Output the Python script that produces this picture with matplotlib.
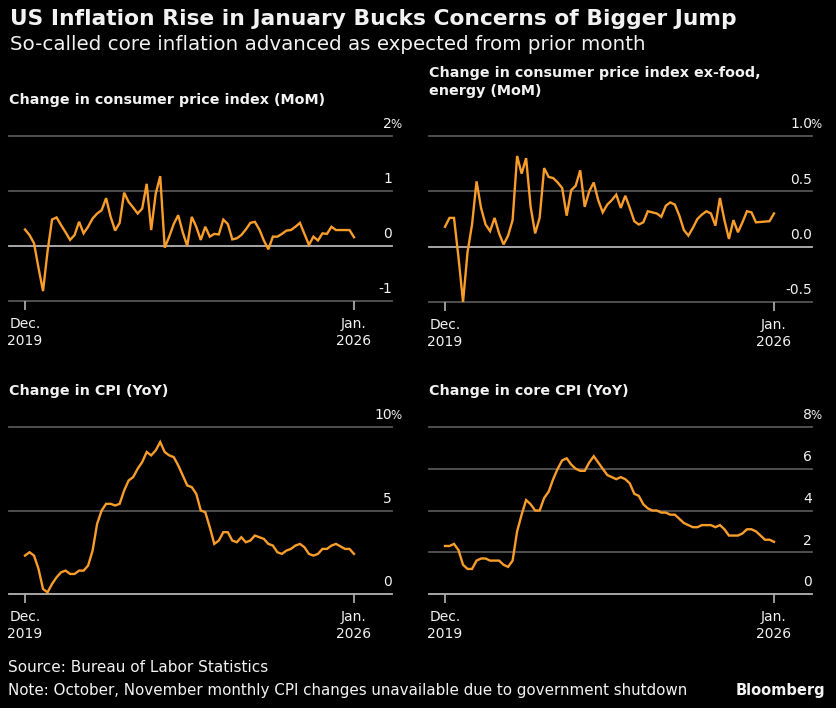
import numpy as np
import matplotlib
matplotlib.use("Agg")
import matplotlib.pyplot as plt

# months from Dec. 2019 (0) to Jan. 2026 (73); Oct./Nov. 2025 missing for MoM
n_months = 74
tick_idx = [0, 73]
tick_labels = ["Dec.\n2019", "Jan.\n2026"]

cpi_mom = [0.3, 0.2, 0.05, -0.4, -0.82, -0.1, 0.48, 0.52, 0.38, 0.25, 0.11, 0.2,
           0.44, 0.23, 0.35, 0.5, 0.59, 0.65, 0.87, 0.53, 0.28, 0.42, 0.97, 0.8,
           0.7, 0.59, 0.68, 1.13, 0.29, 0.95, 1.27, -0.03, 0.17, 0.4, 0.56, 0.25,
           0.0, 0.53, 0.35, 0.11, 0.35, 0.17, 0.22, 0.21, 0.48, 0.4, 0.12, 0.14,
           0.2, 0.3, 0.42, 0.44, 0.3, 0.1, -0.06, 0.17, 0.17, 0.22, 0.28, 0.29,
           0.35, 0.42, 0.22, 0.02, 0.17, 0.1, 0.23, 0.22, 0.35, 0.29, None, None,
           0.29, 0.16]

core_mom = [0.18, 0.26, 0.26, -0.1, -0.5, -0.05, 0.2, 0.59, 0.35, 0.2, 0.14, 0.26,
            0.12, 0.02, 0.1, 0.24, 0.82, 0.66, 0.8, 0.36, 0.12, 0.26, 0.71, 0.63,
            0.62, 0.58, 0.53, 0.28, 0.51, 0.55, 0.69, 0.36, 0.5, 0.58, 0.42, 0.31,
            0.38, 0.42, 0.47, 0.35, 0.46, 0.35, 0.23, 0.2, 0.22, 0.32, 0.31, 0.3,
            0.27, 0.37, 0.4, 0.38, 0.28, 0.15, 0.1, 0.17, 0.25, 0.29, 0.32, 0.3,
            0.19, 0.44, 0.24, 0.07, 0.24, 0.13, 0.22, 0.32, 0.31, 0.22, None, None,
            0.23, 0.3]

cpi_yoy = [2.3, 2.5, 2.3, 1.5, 0.3, 0.1, 0.6, 1.0, 1.3, 1.4, 1.2, 1.2,
           1.4, 1.4, 1.7, 2.6, 4.2, 5.0, 5.4, 5.4, 5.3, 5.4, 6.2, 6.8,
           7.0, 7.5, 7.9, 8.5, 8.3, 8.6, 9.1, 8.5, 8.3, 8.2, 7.7, 7.1,
           6.5, 6.4, 6.0, 5.0, 4.9, 4.0, 3.0, 3.2, 3.7, 3.7, 3.2, 3.1,
           3.4, 3.1, 3.2, 3.5, 3.4, 3.3, 3.0, 2.9, 2.5, 2.4, 2.6, 2.7,
           2.9, 3.0, 2.8, 2.4, 2.3, 2.4, 2.7, 2.7, 2.9, 3.0, None, 2.7,
           2.7, 2.4]

core_yoy = [2.3, 2.3, 2.4, 2.1, 1.4, 1.2, 1.2, 1.6, 1.7, 1.7, 1.6, 1.6,
            1.6, 1.4, 1.3, 1.6, 3.0, 3.8, 4.5, 4.3, 4.0, 4.0, 4.6, 4.9,
            5.5, 6.0, 6.4, 6.5, 6.2, 6.0, 5.9, 5.9, 6.3, 6.6, 6.3, 6.0,
            5.7, 5.6, 5.5, 5.6, 5.5, 5.3, 4.8, 4.7, 4.3, 4.1, 4.0, 4.0,
            3.9, 3.9, 3.8, 3.8, 3.6, 3.4, 3.3, 3.2, 3.2, 3.3, 3.3, 3.3,
            3.2, 3.3, 3.1, 2.8, 2.8, 2.8, 2.9, 3.1, 3.1, 3.0, None, 2.6,
            2.6, 2.5]

panels = [
    dict(title="Change in consumer price index (MoM)", data=cpi_mom,
         ticks=[-1, 0, 1, 2], labels=["-1", "0", "1", "2"], box=(9, 136, 392, 301)),
    dict(title="Change in consumer price index ex-food,\nenergy (MoM)", data=core_mom,
         ticks=[-0.5, 0.0, 0.5, 1.0], labels=["-0.5", "0.0", "0.5", "1.0"], box=(429, 136, 812, 302)),
    dict(title="Change in CPI (YoY)", data=cpi_yoy,
         ticks=[0, 5, 10], labels=["0", "5", "10"], box=(9, 427, 392, 594)),
    dict(title="Change in core CPI (YoY)", data=core_yoy,
         ticks=[0, 2, 4, 6, 8], labels=["0", "2", "4", "6", "8"], box=(429, 427, 812, 594)),
]

W, H = 837, 708
orange = "#f99d2a"
txt = "#f2f2f2"

fig = plt.figure(figsize=(W / 100, H / 100), dpi=100, facecolor="black")

fig.text(10 / W, 1 - 19 / H, "US Inflation Rise in January Bucks Concerns of Bigger Jump",
         color=txt, fontsize=15.7, fontweight="bold", va="center", ha="left")
fig.text(10 / W, 1 - 45 / H, "So-called core inflation advanced as expected from prior month",
         color=txt, fontsize=14.3, va="center", ha="left")

# pixels between first tick and gridline start, last tick and gridline end
lpad, rpad = 16, 38
for p in panels:
    x0, y0, x1, y1 = p["box"]
    ax = fig.add_axes([x0 / W, 1 - y1 / H, (x1 - x0) / W, (y1 - y0) / H])
    ax.set_facecolor("black")
    step = (x1 - x0 - lpad - rpad) / (tick_idx[1] - tick_idx[0])
    ax.set_xlim(-lpad / step, tick_idx[1] + rpad / step)
    ax.set_ylim(p["ticks"][0], p["ticks"][-1])

    for t, lab in zip(p["ticks"], p["labels"]):
        col = "#b4b4b4" if t == 0 else "#555555"
        ax.axhline(t, color=col, lw=1.3, zorder=1, clip_on=False)
        ax.annotate(lab, (1.0, t), xycoords=ax.get_yaxis_transform(),
                    xytext=(0, 5.5), textcoords="offset points",
                    ha="right", va="baseline", color=txt, fontsize=10)
    # percent sign on the top label
    ax.annotate("%", (1.0, p["ticks"][-1]), xycoords=ax.get_yaxis_transform(),
                xytext=(-1, 5.5), textcoords="offset points",
                ha="left", va="baseline", color=txt, fontsize=8.5)

    s = np.array([np.nan if v is None else v for v in p["data"]], dtype=float)
    x = np.arange(n_months)
    ok = ~np.isnan(s)
    ax.plot(x[ok], s[ok], color=orange, lw=1.7, zorder=3, clip_on=False,
            solid_joinstyle="miter")

    for side in ax.spines.values():
        side.set_visible(False)
    ax.set_yticks([])
    ax.set_xticks(tick_idx)
    ax.set_xticklabels(tick_labels, color=txt, fontsize=10, linespacing=1.3)
    ax.tick_params(axis="x", direction="out", length=6.5, width=1.2,
                   color="#b4b4b4", pad=5)

    ty = y0 - 36 if "\n" not in p["title"] else y0 - 54
    fig.text(x0 / W, 1 - ty / H, p["title"], color=txt, fontsize=10.3,
             fontweight="bold", va="center", ha="left", linespacing=1.3)

fig.text(8 / W, 1 - 668 / H, "Source: Bureau of Labor Statistics",
         color=txt, fontsize=11, va="center", ha="left")
fig.text(8 / W, 1 - 690 / H,
         "Note: October, November monthly CPI changes unavailable due to government shutdown",
         color=txt, fontsize=10.9, va="center", ha="left")
fig.text(825 / W, 1 - 690 / H, "Bloomberg", color=txt, fontsize=10.5,
         fontweight="bold", va="center", ha="right")

fig.savefig("out.png", dpi=100, facecolor="black")
